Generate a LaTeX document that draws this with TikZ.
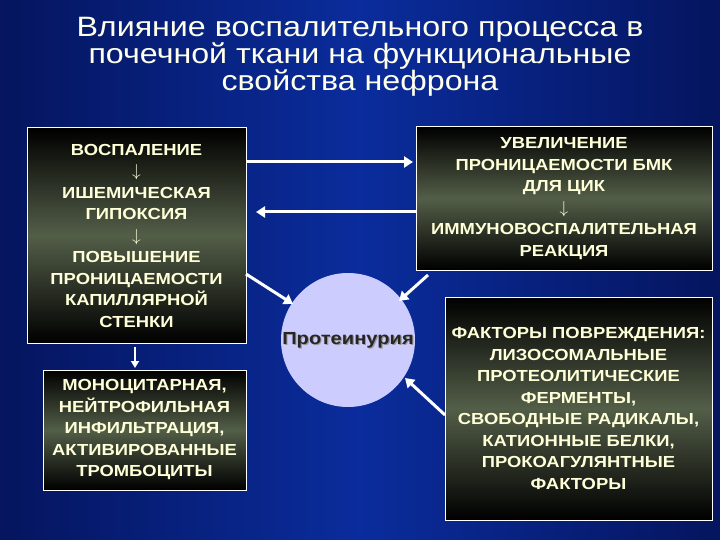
\documentclass[tikz,border=0pt]{standalone}
\usepackage{fontspec}
\setmainfont{Liberation Sans}
\newfontfamily\widefont[FakeStretch=1.15]{Liberation Sans}
\usetikzlibrary{arrows.meta,shadows}
\definecolor{txt}{HTML}{FFFFD8}
\definecolor{olive}{HTML}{535E48}
\definecolor{bgmid}{HTML}{0A2C9C}
\definecolor{bgedge}{HTML}{05155E}
\tikzset{
 box/.style={draw=white,line width=1pt,top color=black,bottom color=black,middle color=olive,
   text=txt,font=\widefont\bfseries\fontsize{16}{21.5}\selectfont,align=center,inner sep=2pt},
 arr/.style={draw=white,line width=3pt,-{Triangle[length=9pt,width=11pt]}},
}
\begin{document}
\begin{tikzpicture}[x=1pt,y=-1pt]
\useasboundingbox (0,0) rectangle (720,540);
\shade[left color=bgedge,right color=bgmid] (0,0) rectangle (360.5,540);
\shade[right color=bgedge,left color=bgmid] (360,0) rectangle (720,540);
\node[text=txt!50!white,align=center,font=\widefont\fontsize{28}{27}\selectfont] (title) at (360,57)
 {Влияние воспалительного процесса в\\почечной ткани на функциональные\\свойства нефрона};
\node[box,minimum width=219pt,minimum height=215pt] (lt) at (136.5,235.5)
 {ВОСПАЛЕНИЕ\\$\downarrow$\\ИШЕМИЧЕСКАЯ\\ГИПОКСИЯ\\$\downarrow$\\ПОВЫШЕНИЕ\\ПРОНИЦАЕМОСТИ\\КАПИЛЛЯРНОЙ\\СТЕНКИ};
\node[box,minimum width=203pt,minimum height=120pt] (lb) at (144.5,430)
 {МОНОЦИТАРНАЯ,\\НЕЙТРОФИЛЬНАЯ\\ИНФИЛЬТРАЦИЯ,\\АКТИВИРОВАННЫЕ\\ТРОМБОЦИТЫ};
\node[box,minimum width=296pt,minimum height=143pt] (rt) at (564,198.5)
 {УВЕЛИЧЕНИЕ\\ПРОНИЦАЕМОСТИ БМК\\ДЛЯ ЦИК\\$\downarrow$\\ИММУНОВОСПАЛИТЕЛЬНАЯ\\РЕАКЦИЯ};
\node[box,minimum width=267pt,minimum height=223pt] (rb) at (578.5,408.5)
 {ФАКТОРЫ ПОВРЕЖДЕНИЯ:\\ЛИЗОСОМАЛЬНЫЕ\\ПРОТЕОЛИТИЧЕСКИЕ\\ФЕРМЕНТЫ,\\СВОБОДНЫЕ РАДИКАЛЫ,\\КАТИОННЫЕ БЕЛКИ,\\ПРОКОАГУЛЯНТНЫЕ\\ФАКТОРЫ};
\node[circle,fill=blue!20!white,minimum size=134pt,inner sep=0pt] (p) at (348,340) {};
\node[font=\widefont\bfseries\fontsize{17.5}{17.5}\selectfont,text=black!40] at ([shift={(1.2,1.2)}]p.center) {Протеинурия};
\node[font=\widefont\bfseries\fontsize{17.5}{17.5}\selectfont,text=black!85] (pt) at (p.center) {Протеинурия};
\coordinate (a1) at (246,162); \coordinate (a2) at (413,162);
\coordinate (b1) at (416,212); \coordinate (b2) at (256,212);
\coordinate (c1) at (135,347); \coordinate (c2) at (135,368);
\coordinate (d1) at (246,274); \coordinate (d2) at (293,304);
\coordinate (e1) at (428,275); \coordinate (e2) at (399,301);
\coordinate (f1) at (445,415); \coordinate (f2) at (405,378);
\draw[arr] (a1) -- (a2);
\draw[arr] (b1) -- (b2);
\draw[arr,line width=2pt,-{Triangle[length=7pt,width=8pt]}] (c1) -- (c2);
\draw[arr] (d1) -- (d2);
\draw[arr] (e1) -- (e2);
\draw[arr] (f1) -- (f2);
\end{tikzpicture}
\end{document}
